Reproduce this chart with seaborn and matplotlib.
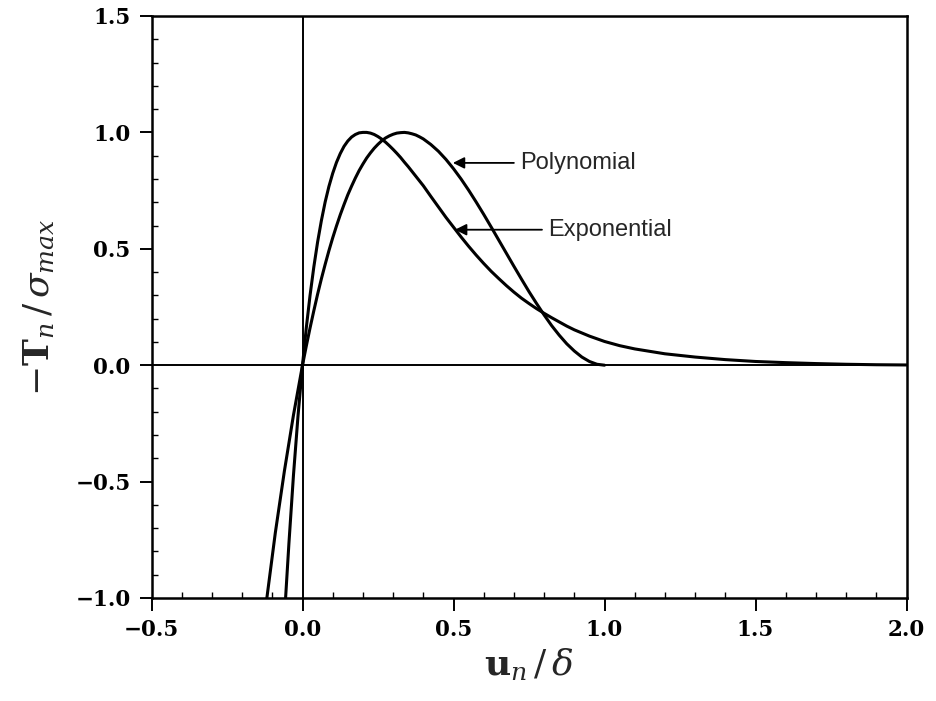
import matplotlib
matplotlib.use("Agg")
import matplotlib.pyplot as plt
import seaborn as sns
import pandas as pd

# Normalised traction-separation curves (opening u_n/delta vs. -T_n/sigma_max)
poly_u = [-0.12, -0.09, -0.06, -0.03, 0.0,
          0.0125, 0.025, 0.0375, 0.05, 0.0625, 0.075, 0.0875, 0.10,
          0.1125, 0.125, 0.1375, 0.15, 0.1625, 0.175, 0.1875, 0.20,
          0.2125, 0.225, 0.2375, 0.25, 0.2625, 0.275, 0.2875, 0.30,
          0.3125, 0.325, 0.3375, 0.35, 0.3625, 0.375, 0.3875, 0.40,
          0.425, 0.45, 0.475, 0.50, 0.525, 0.55, 0.575, 0.60,
          0.625, 0.65, 0.675, 0.70, 0.725, 0.75, 0.775, 0.80,
          0.825, 0.85, 0.875, 0.90, 0.925, 0.95, 0.975, 1.00]
poly_t = [-1.02, -0.72, -0.455, -0.215, 0.0,
          0.082, 0.160, 0.234, 0.305, 0.371, 0.433, 0.492, 0.547,
          0.598, 0.646, 0.690, 0.732, 0.769, 0.804, 0.836, 0.864,
          0.890, 0.912, 0.932, 0.949, 0.964, 0.976, 0.985, 0.992,
          0.997, 0.999, 1.000, 0.998, 0.994, 0.989, 0.981, 0.972,
          0.948, 0.919, 0.884, 0.844, 0.800, 0.752, 0.701, 0.648,
          0.593, 0.537, 0.481, 0.425, 0.370, 0.316, 0.265, 0.216,
          0.170, 0.129, 0.092, 0.061, 0.035, 0.016, 0.004, 0.0]

exp_u = [-0.056, -0.045, -0.03, -0.015, 0.0,
         0.0125, 0.025, 0.0375, 0.05, 0.0625, 0.075, 0.0875, 0.10,
         0.1125, 0.125, 0.1375, 0.15, 0.1625, 0.175, 0.1875, 0.20,
         0.2125, 0.225, 0.2375, 0.25, 0.2625, 0.275, 0.2875, 0.30,
         0.3125, 0.325, 0.3375, 0.35, 0.375, 0.40, 0.425, 0.45, 0.475, 0.50,
         0.525, 0.55, 0.575, 0.60, 0.625, 0.65, 0.675, 0.70,
         0.725, 0.75, 0.775, 0.80, 0.825, 0.85, 0.875, 0.90,
         0.95, 1.00, 1.05, 1.10, 1.20, 1.30, 1.40, 1.50,
         1.60, 1.70, 1.80, 1.90, 2.00]
exp_t = [-1.0, -0.766, -0.474, -0.220, 0.0,
         0.160, 0.300, 0.422, 0.529, 0.621, 0.701, 0.768, 0.824,
         0.871, 0.909, 0.940, 0.963, 0.980, 0.991, 0.998, 1.000,
         1.000, 0.997, 0.991, 0.982, 0.971, 0.958, 0.943, 0.927,
         0.910, 0.892, 0.872, 0.853, 0.812, 0.771, 0.725, 0.680, 0.635, 0.593,
         0.551, 0.511, 0.473, 0.437, 0.403, 0.372, 0.342, 0.314,
         0.288, 0.265, 0.243, 0.223, 0.204, 0.186, 0.168, 0.152,
         0.125, 0.102, 0.084, 0.070, 0.049, 0.035, 0.024, 0.016,
         0.011, 0.007, 0.004, 0.002, 0.001]

x_ticks = [-0.5, 0.0, 0.5, 1.0, 1.5, 2.0]
x_tick_labels = ["\u22120.5", "0.0", "0.5", "1.0", "1.5", "2.0"]
y_ticks = [-1.0, -0.5, 0.0, 0.5, 1.0, 1.5]
y_tick_labels = ["\u22121.0", "\u22120.5", "0.0", "0.5", "1.0", "1.5"]

curve_labels = ["Polynomial", "Exponential"]

sns.set_theme(style="ticks")
plt.rcParams["font.family"] = ["DejaVu Serif"]
plt.rcParams["mathtext.fontset"] = "dejavuserif"

fig = plt.figure(figsize=(9.36, 7.01), dpi=100)
ax = fig.add_axes([151.5 / 936, 1 - 598 / 701, 755 / 936, 582 / 701])

df = pd.concat([
    pd.DataFrame({"u": poly_u, "t": poly_t, "law": curve_labels[0]}),
    pd.DataFrame({"u": exp_u, "t": exp_t, "law": curve_labels[1]}),
], ignore_index=True)

ax.axhline(0.0, color="black", lw=1.4, zorder=1)
ax.axvline(0.0, color="black", lw=1.4, zorder=1)

sns.lineplot(data=df, x="u", y="t", units="law", estimator=None, sort=False,
             color="black", lw=2.2, legend=False, ax=ax, zorder=3,
             solid_joinstyle="round", solid_capstyle="round")

ax.set_xlim(-0.5, 2.0)
ax.set_ylim(-1.0, 1.5)

ax.set_xticks(x_ticks)
ax.set_xticklabels(x_tick_labels)
ax.set_yticks(y_ticks)
ax.set_yticklabels(y_tick_labels)
ax.set_xticks([v / 10 for v in range(-5, 21)], minor=True)
ax.set_yticks([v / 10 for v in range(-10, 16)], minor=True)

ax.tick_params(which="major", direction="out", length=9, width=1.4,
               labelsize=15.5, pad=6, colors="black")
ax.tick_params(which="minor", direction="in", length=4.5, width=1.0,
               colors="black")
for lab in ax.get_xticklabels() + ax.get_yticklabels():
    lab.set_fontweight("bold")

for side in ["left", "right", "top", "bottom"]:
    ax.spines[side].set_visible(True)
    ax.spines[side].set_linewidth(1.8)
    ax.spines[side].set_color("black")

ax.set_xlabel(r"$\mathbf{u}_{n}\,/\,\delta$", fontsize=26, labelpad=4)
ax.set_ylabel(r"$-\mathbf{T}_{n}\,/\,\sigma_{max}$", fontsize=26, labelpad=14)

arrow_style = dict(arrowstyle="-|>", color="black", lw=1.3,
                   mutation_scale=17, shrinkA=2, shrinkB=0)
ax.annotate(curve_labels[0], xy=(0.498, 0.869), xytext=(0.72, 0.869),
            ha="left", va="center", fontsize=17,
            family=["Liberation Sans", "DejaVu Sans"],
            arrowprops=arrow_style)
ax.annotate(curve_labels[1], xy=(0.505, 0.582), xytext=(0.813, 0.582),
            ha="left", va="center", fontsize=17,
            family=["Liberation Sans", "DejaVu Sans"],
            arrowprops=arrow_style)

fig.savefig("out.png", dpi=100, facecolor="white")
